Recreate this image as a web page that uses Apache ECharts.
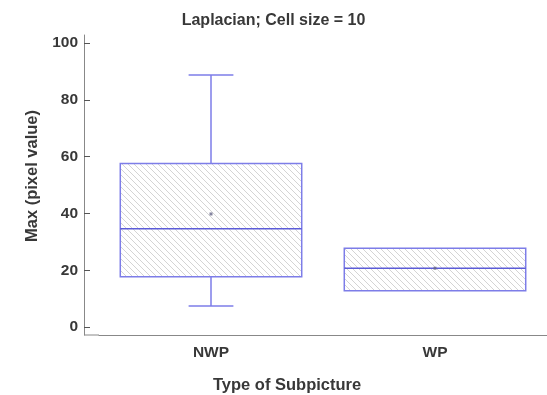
<!DOCTYPE html>
<html>
<head>
<meta charset="utf-8">
<script src="https://cdn.jsdelivr.net/npm/echarts@6/dist/echarts.min.js"></script>
<style>
  html, body { margin: 0; padding: 0; background: #fff; }
  #chart { width: 547px; height: 395px; }
</style>
</head>
<body>
<div id="chart"></div>
<script>
// Box-and-whisker summary per subpicture type
const categories = ['NWP', 'WP'];
const mins = [7.4, 12.8];
const q1s = [17.7, 12.8];
const medians = [34.6, 20.7];
const q3s = [57.6, 27.7];
const maxs = [88.7, 27.7];
const means = [39.8, 20.7];
const yTicks = [0, 20, 40, 60, 80, 100];

// Diagonal hatch tile used to fill the boxes
function makeHatch() {
  const s = 6;
  const c = document.createElement('canvas');
  c.width = s; c.height = s;
  const g = c.getContext('2d');
  g.fillStyle = '#ffffff';
  g.fillRect(0, 0, s, s);
  g.strokeStyle = '#d4d4d4';
  g.lineWidth = 1;
  g.beginPath();
  g.moveTo(-1, -1); g.lineTo(s + 1, s + 1);
  g.moveTo(-1, s - 1); g.lineTo(1, s + 1);
  g.moveTo(s - 1, -1); g.lineTo(s + 1, 1);
  g.stroke();
  return c;
}
const hatch = { image: makeHatch(), repeat: 'repeat' };

const boxColor = '#7d7de8';
const medianColor = '#5c5cd8';

const boxData = categories.map((c, i) => [i, mins[i], q1s[i], medians[i], q3s[i], maxs[i]]);
const meanData = categories.map((c, i) => [i, means[i]]);

function renderBox(params, api) {
  const i = api.value(0);
  const band = api.size([1, 0])[0];
  const cx = api.coord([i, 0])[0];
  const half = band * 0.405;
  const capHalf = band * 0.1;
  const yMin = api.coord([i, api.value(1)])[1];
  const yQ1 = api.coord([i, api.value(2)])[1];
  const yMed = api.coord([i, api.value(3)])[1];
  const yQ3 = api.coord([i, api.value(4)])[1];
  const yMax = api.coord([i, api.value(5)])[1];
  const lineStyle = { stroke: boxColor, lineWidth: 1.5 };
  const children = [
    { type: 'rect', shape: { x: cx - half, y: yQ3, width: half * 2, height: yQ1 - yQ3 },
      style: { fill: hatch, stroke: boxColor, lineWidth: 1.5 } },
    { type: 'line', shape: { x1: cx - half, y1: yMed, x2: cx + half, y2: yMed },
      style: { stroke: medianColor, lineWidth: 1.5 } }
  ];
  if (yMax < yQ3 - 0.5) {
    children.push({ type: 'line', shape: { x1: cx, y1: yQ3, x2: cx, y2: yMax }, style: lineStyle });
    children.push({ type: 'line', shape: { x1: cx - capHalf, y1: yMax, x2: cx + capHalf, y2: yMax }, style: lineStyle });
  }
  if (yMin > yQ1 + 0.5) {
    children.push({ type: 'line', shape: { x1: cx, y1: yQ1, x2: cx, y2: yMin }, style: lineStyle });
    children.push({ type: 'line', shape: { x1: cx - capHalf, y1: yMin, x2: cx + capHalf, y2: yMin }, style: lineStyle });
  }
  return { type: 'group', children };
}

const chart = echarts.init(document.getElementById('chart'), null, { renderer: 'canvas' });
const axisGray = '#888888';
const textDark = '#383838';
const fontFam = 'Arial, "Liberation Sans", sans-serif';

chart.setOption({
  animation: false,
  backgroundColor: '#ffffff',
  title: [
    { text: 'Laplacian; Cell size = 10', left: 'center', top: 8,
      textStyle: { fontSize: 16, fontWeight: 'bold', color: textDark, fontFamily: fontFam } },
    { text: 'Type of Subpicture', left: 208, top: 372,
      textStyle: { fontSize: 16.5, fontWeight: 'bold', color: textDark, fontFamily: fontFam } }
  ],
  grid: { left: 99, width: 462, top: 35, bottom: 60 },
  xAxis: {
    type: 'category',
    data: categories,
    boundaryGap: true,
    axisLine: { onZero: false, lineStyle: { color: axisGray, width: 1 } },
    axisTick: { inside: true, length: 4, lineStyle: { color: axisGray } },
    axisLabel: { margin: 10, fontSize: 15.5, fontWeight: 'bold', color: textDark, fontFamily: fontFam },
    splitLine: { show: false }
  },
  yAxis: {
    type: 'value',
    min: -2.8,
    max: 102.8,
    offset: 15,
    name: 'Max (pixel value)',
    nameLocation: 'middle',
    nameGap: 39,
    nameTextStyle: { fontSize: 16.5, fontWeight: 'bold', color: textDark, fontFamily: fontFam, padding: [0, 0, 0, 18] },
    axisLine: { show: true, lineStyle: { color: axisGray, width: 1 } },
    axisTick: { show: true, inside: true, length: 6, customValues: yTicks, lineStyle: { color: '#555' } },
    axisLabel: { margin: 6, fontSize: 15.5, fontWeight: 'bold', color: textDark, fontFamily: fontFam, customValues: yTicks },
    splitLine: { show: false }
  },
  graphic: [
    { type: 'line', shape: { x1: 84, y1: 335, x2: 99, y2: 335 }, style: { stroke: axisGray, lineWidth: 1 }, silent: true }
  ],
  series: [
    {
      type: 'custom',
      renderItem: renderBox,
      data: boxData,
      encode: { x: 0, y: [1, 2, 3, 4, 5] },
      z: 2
    },
    {
      type: 'scatter',
      data: meanData,
      symbol: 'rect',
      symbolSize: 3,
      itemStyle: { color: '#666688' },
      z: 3
    }
  ]
});
</script>
</body>
</html>
